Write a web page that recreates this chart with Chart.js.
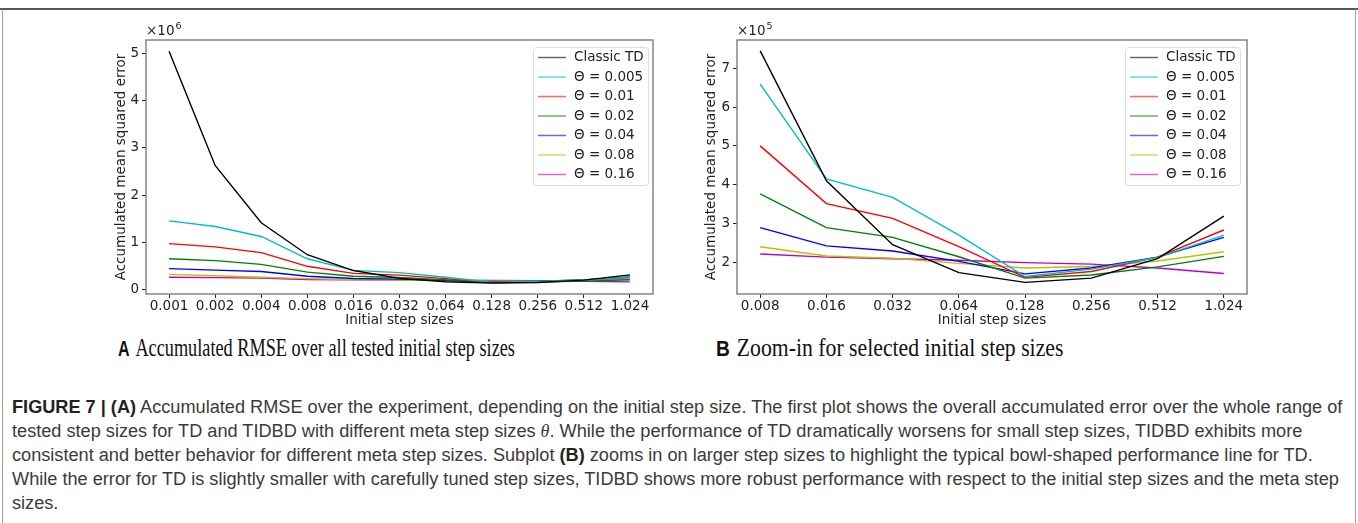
<!DOCTYPE html>
<html>
<head>
<meta charset="utf-8">
<script src="https://cdn.jsdelivr.net/npm/chart.js@4.4.1/dist/chart.umd.min.js"></script>
<style>
  body { margin: 0; background: #fff; }
  #fig { position: relative; width: 1358px; height: 523px; overflow: hidden; background: #fff; font-family: 'Liberation Sans', Arial, sans-serif; }
  .topline { position: absolute; left: 0; top: 8px; width: 1358px; height: 2px; background: #555; }
  .side { position: absolute; top: 9px; width: 1px; height: 520px; background: #a0a0a0; }
  .plot { position: absolute; top: 0; width: 679px; height: 333px; }
  .sub { position: absolute; top: 333px; white-space: nowrap; font-family: 'Liberation Serif', 'Times New Roman', serif; font-size: 25px; line-height: 30px; color: #111; transform-origin: 0 0; }
  .sub b { font-family: 'Liberation Sans', Arial, sans-serif; font-size: 22px; margin-right: 8px; }
  #cap { position: absolute; left: 12px; top: 395px; font-size: 18px; line-height: 24px; color: #3a3a3a; white-space: nowrap; transform-origin: 0 0; }
  #cap b { color: #222; }
  #cap i { font-family: 'Liberation Serif', serif; }
</style>
</head>
<body>
<div id="fig">
  <div class="topline"></div>
  <div class="side" style="left:2px"></div>
  <div class="side" style="left:1355px"></div>

  <div class="plot" style="left:0"><canvas id="chartA"></canvas></div>
  <div class="plot" style="left:679px"><canvas id="chartB"></canvas></div>

  <div class="sub" id="subA" style="left:118px"><b>A</b>Accumulated RMSE over all tested initial step sizes</div>
  <div class="sub" id="subB" style="left:716px"><b>B</b>Zoom-in for selected initial step sizes</div>

  <div id="cap">
    <div id="capLine1"><b>FIGURE 7 | (A)</b> Accumulated RMSE over the experiment, depending on the initial step size. The first plot shows the overall accumulated error over the whole range of</div>
    <div>tested step sizes for TD and TIDBD with different meta step sizes <i>θ</i>. While the performance of TD dramatically worsens for small step sizes, TIDBD exhibits more</div>
    <div>consistent and better behavior for different meta step sizes. Subplot <b>(B)</b> zooms in on larger step sizes to highlight the typical bowl-shaped performance line for TD.</div>
    <div>While the error for TD is slightly smaller with carefully tuned step sizes, TIDBD shows more robust performance with respect to the initial step sizes and the meta step</div>
    <div>sizes.</div>
  </div>
</div>

<script>
// initial step sizes (x categories); panel B starts at 0.008
const stepSizes = ['0.001', '0.002', '0.004', '0.008', '0.016', '0.032', '0.064', '0.128', '0.256', '0.512', '1.024'];
const zoomStart = 3;

const seriesNames = ['Classic TD', 'Θ = 0.005', 'Θ = 0.01', 'Θ = 0.02', 'Θ = 0.04', 'Θ = 0.08', 'Θ = 0.16'];
const seriesColors = ['#000000', '#00bfbf', '#ff0000', '#008000', '#0000ff', '#bfbf00', '#bf00bf'];

// accumulated mean squared error
const classicTD = [5040000, 2630000, 1420000, 745000, 410000, 245000, 173000, 148000, 159000, 209000, 319000];
const theta005  = [1460000, 1340000, 1130000, 659000, 415000, 367000, 270000, 163000, 182000, 212000, 270000];
const theta01   = [980000, 910000, 790000, 500000, 351000, 313000, 240000, 161000, 176000, 213000, 283000];
const theta02   = [660000, 620000, 540000, 376000, 289000, 264000, 214000, 159000, 167000, 188000, 215000];
const theta04   = [450000, 420000, 390000, 289000, 242000, 229000, 202000, 170000, 185000, 213000, 264000];
const theta08   = [330000, 300000, 270000, 240000, 216000, 210000, 197000, 185000, 189000, 203000, 227000];
const theta16   = [270000, 260000, 250000, 221000, 213000, 209000, 205000, 199000, 195000, 185000, 171000];
const allSeries = [classicTD, theta005, theta01, theta02, theta04, theta08, theta16];

// y tick labels (in units of the axis multiplier)
const ticksA = [0, 1, 2, 3, 4, 5];
const ticksB = [2, 3, 4, 5, 6, 7];

Chart.defaults.font.family = "'DejaVu Sans', sans-serif";
Chart.defaults.font.size = 13.5;
Chart.defaults.color = '#222';

const mplDecor = {
    id: 'mplDecor',
    afterDraw(chart, args, opts) {
        const ctx = chart.ctx;
        const a = chart.chartArea;
        ctx.save();

        // axes frame
        ctx.strokeStyle = '#858585';
        ctx.lineWidth = 1.5;
        ctx.strokeRect(a.left, a.top, a.right - a.left, a.bottom - a.top);

        // offset text above y axis
        ctx.fillStyle = '#222';
        ctx.textBaseline = 'alphabetic';
        ctx.font = "13.5px 'DejaVu Sans'";
        ctx.fillText('×10', a.left, a.top - 5);
        const w = ctx.measureText('×10').width;
        ctx.font = "9.5px 'DejaVu Sans'";
        ctx.fillText(String(opts.exp), a.left + w + 1, a.top - 11);

        // legend box, upper right
        const bw = 115, bh = 138;
        const bx = a.right - opts.legendGap - bw, by = a.top + 7;
        ctx.fillStyle = 'rgba(255,255,255,0.85)';
        ctx.strokeStyle = '#dcdcdc';
        ctx.lineWidth = 1;
        ctx.beginPath();
        ctx.roundRect(bx + 0.5, by + 0.5, bw, bh, 3);
        ctx.fill();
        ctx.stroke();

        ctx.font = "13.5px 'DejaVu Sans'";
        ctx.textBaseline = 'middle';
        chart.data.datasets.forEach((ds, i) => {
            const yy = by + 10.5 + i * 19.5;
            ctx.strokeStyle = ds.borderColor;
            ctx.globalAlpha = 0.6;
            ctx.lineWidth = 1.5;
            ctx.beginPath();
            ctx.moveTo(bx + 5, yy);
            ctx.lineTo(bx + 33, yy);
            ctx.stroke();
            ctx.globalAlpha = 1;
            ctx.fillStyle = '#222';
            ctx.fillText(ds.label, bx + 41, yy);
        });
        ctx.restore();
    }
};

const makeChart = (id, first, cfg) => {
    const labels = stepSizes.slice(first);
    const n = labels.length;
    const margin = (n - 1) * 0.05;
    const mult = Math.pow(10, cfg.exp);

    return new Chart(document.getElementById(id), {
        type: 'line',
        data: {
            datasets: allSeries.map((vals, i) => ({
                label: seriesNames[i],
                data: vals.slice(first).map((v, j) => ({ x: j, y: v })),
                borderColor: seriesColors[i],
                borderWidth: 1.4,
                pointRadius: 0,
                tension: 0,
                fill: false
            }))
        },
        options: {
            responsive: false,
            animation: false,
            events: [],
            layout: { padding: cfg.padding },
            plugins: {
                legend: { display: false },
                tooltip: { enabled: false },
                mplDecor: { exp: cfg.exp, legendGap: cfg.legendGap }
            },
            scales: {
                x: {
                    type: 'linear',
                    min: -margin,
                    max: n - 1 + margin,
                    afterBuildTicks: s => { s.ticks = labels.map((_, j) => ({ value: j })); },
                    afterFit: s => { s.height = 39; },
                    ticks: { callback: v => labels[v], padding: 0, maxRotation: 0, autoSkip: false },
                    grid: { drawOnChartArea: false, drawTicks: true, tickLength: 4, tickColor: '#222' },
                    border: { display: false },
                    title: { display: true, text: 'Initial step sizes', padding: { top: 0, bottom: 4 } }
                },
                y: {
                    min: cfg.yMin,
                    max: cfg.yMax,
                    afterBuildTicks: s => { s.ticks = cfg.ticks.map(t => ({ value: t * mult })); },
                    afterFit: s => { s.width = cfg.yWidth; },
                    ticks: { callback: v => String(Math.round(v / mult)), padding: 3 },
                    grid: { drawOnChartArea: false, drawTicks: true, tickLength: 4, tickColor: '#222' },
                    border: { display: false },
                    title: { display: true, text: 'Accumulated mean squared error', padding: { top: 0, bottom: 0 } }
                }
            }
        },
        plugins: [mplDecor]
    });
};

// canvas sizes
['chartA', 'chartB'].forEach(id => {
    const c = document.getElementById(id);
    c.width = 679; c.height = 333;
    c.style.width = '679px'; c.style.height = '333px';
});

makeChart('chartA', 0, {
    exp: 6, ticks: ticksA, yMin: -85000, yMax: 5280000,
    padding: { left: 113, right: 26, top: 40, bottom: 0 }, yWidth: 33, legendGap: 5
});
makeChart('chartB', zoomStart, {
    exp: 5, ticks: ticksB, yMin: 118000, yMax: 773000,
    padding: { left: 24, right: 111, top: 40, bottom: 0 }, yWidth: 34, legendGap: 7
});

// fit captions to the printed widths
const fit = (el, target) => {
    const w = el.scrollWidth;
    el.style.transform = 'scaleX(' + (target / w) + ')';
};
fit(document.getElementById('subA'), 397);
fit(document.getElementById('subB'), 347);
const line1 = document.getElementById('capLine1');
const cap = document.getElementById('cap');
cap.style.width = line1.scrollWidth + 'px';
cap.style.transform = 'scaleX(' + (1330 / line1.scrollWidth) + ')';
</script>
</body>
</html>
